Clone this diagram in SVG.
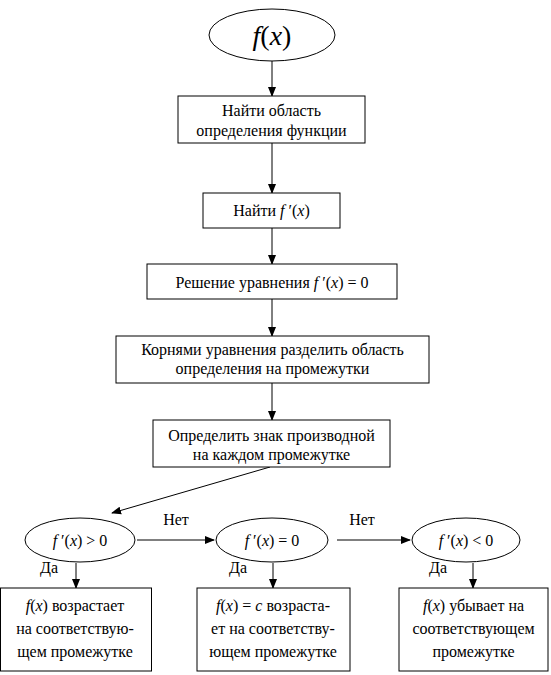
<svg xmlns="http://www.w3.org/2000/svg" width="551" height="675" viewBox="0 0 551 675">
<defs>
<marker id="ah" markerWidth="10" markerHeight="10" refX="9" refY="5" orient="auto" markerUnits="userSpaceOnUse">
<path d="M0,1 L10,5 L0,9 Z" fill="#000"/>
</marker>
<style>
.n{fill:#fff;stroke:#000;stroke-width:1}
.t{font-family:'Liberation Serif','Times New Roman',serif;font-size:16px;fill:#000;text-anchor:middle}
.i{font-style:italic}
.c line{stroke:#000;stroke-width:1;fill:none;marker-end:url(#ah)}
</style>
</defs>
<rect width="551" height="675" fill="#fff"/>
<g class="c" id="connectors">
<line x1="272" y1="61" x2="272" y2="96"/>
<line x1="272" y1="143" x2="272" y2="193"/>
<line x1="272" y1="228" x2="272" y2="264"/>
<line x1="272" y1="299" x2="272" y2="336"/>
<line x1="272" y1="383" x2="272" y2="420"/>
<line x1="270" y1="467" x2="112" y2="513"/>
<line x1="137" y1="540" x2="214" y2="540"/>
<line x1="337" y1="540" x2="410" y2="540"/>
<line x1="76" y1="563" x2="76" y2="588"/>
<line x1="273" y1="563" x2="273" y2="588"/>
<line x1="473" y1="563" x2="473" y2="588"/>
</g>
<g id="start">
<ellipse class="n" cx="272" cy="35" rx="63" ry="26"/>
<text class="t" x="272" y="45" style="font-size:28px"><tspan class="i">f</tspan>(<tspan class="i">x</tspan>)</text>
</g>
<g id="domain">
<rect class="n" x="178" y="96" width="187" height="47"/>
<text class="t" x="271.5" y="116">Найти область</text>
<text class="t" x="271.5" y="136">определения функции</text>
</g>
<g id="derivative">
<rect class="n" x="203" y="193" width="137" height="35"/>
<text class="t" x="271.5" y="216">Найти  <tspan class="i">f</tspan> ′(<tspan class="i">x</tspan>)</text>
</g>
<g id="equation">
<rect class="n" x="147" y="264" width="250" height="35"/>
<text class="t" x="272" y="288">Решение уравнения  <tspan class="i">f</tspan> ′(<tspan class="i">x</tspan>) = 0</text>
</g>
<g id="split">
<rect class="n" x="116" y="336" width="313" height="47"/>
<text class="t" x="272.5" y="355">Корнями уравнения разделить область</text>
<text class="t" x="272.5" y="374">определения на промежутки</text>
</g>
<g id="sign">
<rect class="n" x="153" y="420" width="237" height="47"/>
<text class="t" x="271.5" y="441">Определить знак производной</text>
<text class="t" x="271.5" y="460">на каждом промежутке</text>
</g>
<g id="cond1">
<ellipse class="n" cx="80" cy="540" rx="55" ry="22"/>
<text class="t" x="80" y="546"><tspan class="i">f</tspan> ′(<tspan class="i">x</tspan>) &gt; 0</text>
</g>
<g id="cond2">
<ellipse class="n" cx="272" cy="540" rx="56" ry="22"/>
<text class="t" x="272" y="546"><tspan class="i">f</tspan> ′(<tspan class="i">x</tspan>) = 0</text>
</g>
<g id="cond3">
<ellipse class="n" cx="466" cy="540" rx="54" ry="22"/>
<text class="t" x="466" y="546"><tspan class="i">f</tspan> ′(<tspan class="i">x</tspan>) &lt; 0</text>
</g>
<g id="labels">
<text class="t" x="176" y="525">Нет</text>
<text class="t" x="362" y="525">Нет</text>
<text class="t" x="49" y="573">Да</text>
<text class="t" x="238" y="573">Да</text>
<text class="t" x="438" y="573">Да</text>
</g>
<g id="res1">
<rect class="n" x="0.5" y="588" width="151" height="83"/>
<text class="t" x="75" y="611"><tspan class="i">f</tspan>(<tspan class="i">x</tspan>) возрастает</text>
<text class="t" x="75" y="634">на соответствую-</text>
<text class="t" x="75" y="657">щем промежутке</text>
</g>
<g id="res2">
<rect class="n" x="197" y="588" width="153" height="83"/>
<text class="t" x="273" y="611"><tspan class="i">f</tspan>(<tspan class="i">x</tspan>) = <tspan class="i">c</tspan>  возраста-</text>
<text class="t" x="273" y="634">ет на соответству-</text>
<text class="t" x="273" y="657">ющем промежутке</text>
</g>
<g id="res3">
<rect class="n" x="399" y="588" width="149" height="83"/>
<text class="t" x="473.5" y="611"><tspan class="i">f</tspan>(<tspan class="i">x</tspan>) убывает на</text>
<text class="t" x="473.5" y="634">соответствующем</text>
<text class="t" x="473.5" y="657">промежутке</text>
</g>
</svg>
